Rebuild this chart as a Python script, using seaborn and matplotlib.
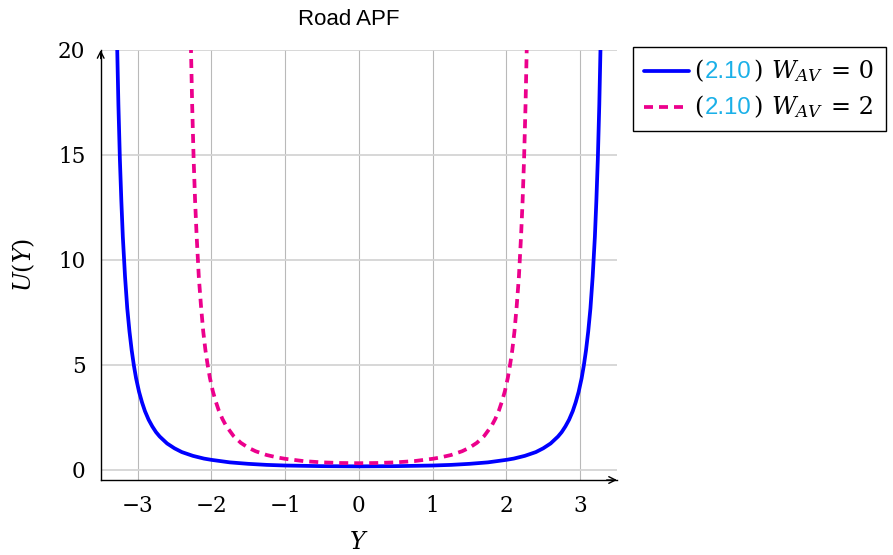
import matplotlib
matplotlib.use("Agg")
import matplotlib.pyplot as plt
import pandas as pd
import seaborn as sns
from matplotlib.lines import Line2D
from matplotlib.offsetbox import (AnchoredOffsetbox, DrawingArea, HPacker,
                                  VPacker, TextArea)

# Road potential field, lateral position Y -> potential U(Y)
y_w0 = [-3.30, -3.28, -3.26, -3.24, -3.22, -3.20, -3.17, -3.14, -3.11, -3.08,
        -3.05, -3.02, -2.98, -2.94, -2.90, -2.85, -2.80, -2.75, -2.70, -2.60,
        -2.50, -2.40, -2.25, -2.10, -2.00, -1.75, -1.50, -1.25, -1.00, -0.50,
        0.00,
        0.50, 1.00, 1.25, 1.50, 1.75, 2.00, 2.10, 2.25, 2.40, 2.50,
        2.60, 2.70, 2.75, 2.80, 2.85, 2.90, 2.94, 2.98, 3.02, 3.05,
        3.08, 3.11, 3.14, 3.17, 3.20, 3.22, 3.24, 3.26, 3.28, 3.30]
u_w0 = [25.0, 20.7, 17.4, 14.8, 12.8, 11.1, 9.2, 7.7, 6.6, 5.7,
        4.97, 4.36, 3.72, 3.22, 2.80, 2.39, 2.07, 1.80, 1.59, 1.26,
        1.03, 0.85, 0.67, 0.54, 0.48, 0.36, 0.29, 0.24, 0.21, 0.18,
        0.17,
        0.18, 0.21, 0.24, 0.29, 0.36, 0.48, 0.54, 0.67, 0.85, 1.03,
        1.26, 1.59, 1.80, 2.07, 2.39, 2.80, 3.22, 3.72, 4.36, 4.97,
        5.7, 6.6, 7.7, 9.2, 11.1, 12.8, 14.8, 17.4, 20.7, 25.0]

y_w2 = [-2.30, -2.28, -2.26, -2.24, -2.22, -2.20, -2.17, -2.14, -2.11, -2.08,
        -2.05, -2.02, -1.98, -1.94, -1.90, -1.85, -1.80, -1.70, -1.60, -1.50,
        -1.40, -1.25, -1.10, -1.00, -0.75, -0.50, -0.25, 0.00,
        0.25, 0.50, 0.75, 1.00, 1.10, 1.25, 1.40, 1.50, 1.60, 1.70,
        1.80, 1.85, 1.90, 1.94, 1.98, 2.02, 2.05, 2.08, 2.11, 2.14,
        2.17, 2.20, 2.22, 2.24, 2.26, 2.28, 2.30]
u_w2 = [25.0, 20.7, 17.4, 14.8, 12.8, 11.2, 9.2, 7.8, 6.6, 5.7,
        5.0, 4.39, 3.75, 3.26, 2.84, 2.43, 2.10, 1.62, 1.29, 1.06,
        0.89, 0.71, 0.59, 0.53, 0.42, 0.36, 0.33, 0.32,
        0.33, 0.36, 0.42, 0.53, 0.59, 0.71, 0.89, 1.06, 1.29, 1.62,
        2.10, 2.43, 2.84, 3.26, 3.75, 4.39, 5.0, 5.7, 6.6, 7.8,
        9.2, 11.2, 12.8, 14.8, 17.4, 20.7, 25.0]

x_ticks = [-3, -2, -1, 0, 1, 2, 3]
y_ticks = [0, 5, 10, 15, 20]
eq_ref = "2.10"
legend_tails = [(r"$W_{AV}$", "= 0"), (r"$W_{AV}$", "= 2")]

BLUE = "#0000ff"
PINK = "#ec008c"
CYAN = "#1ab0e8"
DASH = (2.4, 1.6)
LW = 2.7

sns.set_theme(style="white")
plt.rcParams["mathtext.fontset"] = "dejavuserif"
plt.rcParams["font.family"] = ["DejaVu Serif"]
plt.rcParams["text.color"] = "black"

df0 = pd.DataFrame({"Y": y_w0, "U": u_w0})
df2 = pd.DataFrame({"Y": y_w2, "U": u_w2})

fig = plt.figure(figsize=(8.93, 5.55), dpi=100)
ax = fig.add_axes([100.7 / 893, 1 - 480 / 555, (617 - 100.7) / 893, 430 / 555])

sns.lineplot(data=df0, x="Y", y="U", ax=ax, color=BLUE, lw=LW, sort=False,
             estimator=None)
sns.lineplot(data=df2, x="Y", y="U", ax=ax, color=PINK, lw=LW, sort=False,
             estimator=None, linestyle=(0, DASH))

ax.set_xlim(-3.5, 3.5)
ax.set_ylim(-0.48, 20)
ax.set_xticks(x_ticks)
ax.set_yticks(y_ticks)
ax.set_xticklabels([str(t).replace("-", "\u2212") for t in x_ticks])
ax.set_yticklabels([str(t) for t in y_ticks])

ax.xaxis.grid(True, color="#b9b9b9", lw=0.8)
ax.yaxis.grid(True, color="#d4d4d4", lw=1.3)
ax.set_axisbelow(True)
ax.tick_params(axis="both", direction="out", length=5, width=0.8,
               color="#9a9a9a", labelsize=15.5, pad=6, labelcolor="black")

for side in ("top", "right"):
    ax.spines[side].set_visible(False)
for side in ("left", "bottom"):
    ax.spines[side].set_color("black")
    ax.spines[side].set_linewidth(1.0)

# arrow tips on the axis lines
ax.annotate("", xy=(1.0, 0), xytext=(0.98, 0), xycoords="axes fraction",
            arrowprops=dict(arrowstyle="->", lw=1.0, color="black",
                            shrinkA=0, shrinkB=0))
ax.annotate("", xy=(0, 1.0), xytext=(0, 0.98), xycoords="axes fraction",
            arrowprops=dict(arrowstyle="->", lw=1.0, color="black",
                            shrinkA=0, shrinkB=0))

ax.set_xlabel(r"$Y$", fontsize=17, labelpad=10, color="black")
ax.set_ylabel(r"$U(Y)$", fontsize=17, labelpad=15, color="black")
ax.set_title("Road APF", fontsize=16, family="Liberation Sans", pad=18,
             color="black", x=0.481)

# legend rows: line sample + "(2.10) W_AV = n" with the reference in cyan
FS = 17.3
rows = []
for color, style, (sym, val) in [(BLUE, "-", legend_tails[0]),
                                 (PINK, (0, DASH), legend_tails[1])]:
    da = DrawingArea(32, 10, 0, 0)
    da.add_artist(Line2D([0, 32], [5, 5], color=color, lw=LW, linestyle=style))
    t_open = TextArea("(", textprops=dict(size=FS, family="DejaVu Serif"))
    t_ref = TextArea(eq_ref, textprops=dict(size=FS, color=CYAN,
                                            family="Liberation Sans"))
    t_close = TextArea(")", textprops=dict(size=FS, family="DejaVu Serif"))
    t_sym = TextArea(sym, textprops=dict(size=FS, family="DejaVu Serif"))
    t_val = TextArea(val, textprops=dict(size=FS, family="DejaVu Serif"))
    txt = HPacker(children=[HPacker(children=[t_open, t_ref, t_close],
                                    align="baseline", pad=0, sep=1),
                            t_sym, t_val], align="baseline", pad=0, sep=6)
    rows.append(HPacker(children=[da, txt], align="center", pad=0, sep=4))
box = VPacker(children=rows, align="left", pad=0, sep=7)
anchored = AnchoredOffsetbox(loc="upper left", child=box, pad=0.8, borderpad=0,
                             frameon=True, prop=dict(size=10),
                             bbox_to_anchor=(633 / 893, 1 - 47 / 555),
                             bbox_transform=fig.transFigure)
anchored.patch.set_edgecolor("black")
anchored.patch.set_linewidth(1.0)
anchored.patch.set_boxstyle("square", pad=0)
fig.add_artist(anchored)

fig.savefig("out.png", dpi=100)
